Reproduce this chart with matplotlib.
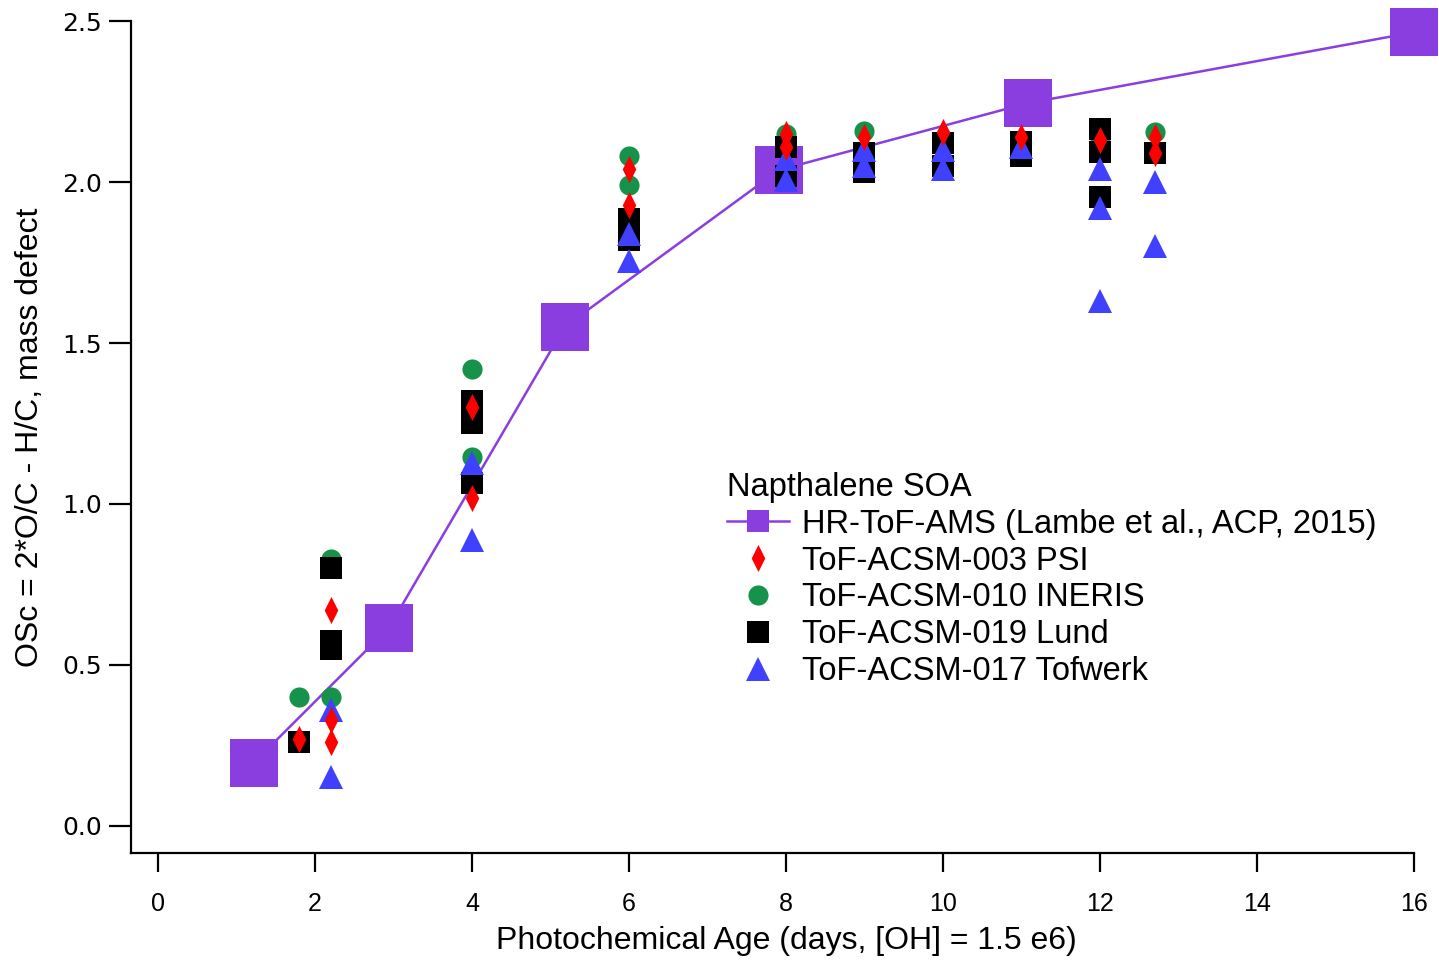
import matplotlib.pyplot as plt
import numpy as np

# Photochemical age (days) and OSc for each instrument
ams_age = [1.22, 2.94, 5.18, 7.91, 11.08, 16.0]
ams_osc = [0.196, 0.615, 1.55, 2.037, 2.245, 2.465]

psi_age = [1.8, 2.2, 2.2, 2.2, 4, 4, 6, 6, 8, 8, 9, 10, 11, 12, 12.7, 12.7]
psi_osc = [0.27, 0.67, 0.33, 0.26, 1.30, 1.02, 2.04, 1.93, 2.15, 2.11, 2.14, 2.155, 2.14, 2.13, 2.14, 2.09]

ineris_age = [1.8, 2.2, 2.2, 4, 4, 6, 6, 8, 9, 12, 12.7]
ineris_osc = [0.40, 0.83, 0.40, 1.42, 1.146, 2.08, 1.99, 2.15, 2.16, 2.13, 2.155]

lund_age = [1.8, 2.2, 2.2, 2.2, 4, 4, 4, 6, 6, 8, 8, 9, 9, 10, 10, 11, 11, 12, 12, 12, 12.7]
lund_osc = [0.26, 0.80, 0.575, 0.55, 1.32, 1.25, 1.065, 1.885, 1.82, 2.11, 2.02,
            2.09, 2.03, 2.12, 2.05, 2.125, 2.08, 2.166, 2.093, 1.953, 2.09]

tofwerk_age = [2.2, 2.2, 4, 4, 6, 6, 8, 8, 9, 9, 10, 10, 11, 12, 12, 12, 12.7, 12.7]
tofwerk_osc = [0.36, 0.152, 1.127, 0.888, 1.84, 1.755, 2.07, 2.006, 2.10, 2.05,
               2.10, 2.04, 2.11, 2.04, 1.92, 1.63, 2.00, 1.80]

purple = '#8a3ee0'
red = '#ff0000'
green = '#16924a'
blue = '#4040ff'

# thin upright diamond
diamond = [(0, 1), (0.5, 0), (0, -1), (-0.5, 0), (0, 1)]

fig = plt.figure(figsize=(14.39, 9.61), dpi=100)
ax = fig.add_axes([0.0910, 0.1124, 0.8916, 0.8657])

l_ams, = ax.plot(ams_age, ams_osc, '-', color=purple, lw=1.8, marker='s', ms=35,
                 mec=purple, mew=0, clip_on=False, zorder=2,
                 label='HR-ToF-AMS (Lambe et al., ACP, 2015)')
l_ineris, = ax.plot(ineris_age, ineris_osc, 'o', color=green, ms=14.5, mew=0,
                    zorder=3, label='ToF-ACSM-010 INERIS')
l_lund, = ax.plot(lund_age, lund_osc, 's', color='black', ms=16, mew=0,
                  zorder=4, label='ToF-ACSM-019 Lund')
l_tof, = ax.plot(tofwerk_age, tofwerk_osc, '^', color=blue, ms=17, mew=0,
                 zorder=5, label='ToF-ACSM-017 Tofwerk')
l_psi, = ax.plot(psi_age, psi_osc, ls='none', marker=diamond, color=red, ms=19.5,
                 mew=0, zorder=6, label='ToF-ACSM-003 PSI')

ax.set_xlim(-0.344, 16)
ax.set_ylim(-0.084, 2.5)

for s in ['top', 'right']:
    ax.spines[s].set_visible(False)
for s in ['left', 'bottom']:
    ax.spines[s].set_linewidth(1.6)

ax.set_xticks(np.arange(0, 17, 2))
ax.set_yticks(np.arange(0, 2.51, 0.5))
ax.set_yticklabels([f'{v:.1f}' for v in np.arange(0, 2.51, 0.5)])
ax.tick_params(axis='y', direction='out', length=16, width=1.6, pad=5,
               labelsize=18, labelfontfamily='DejaVu Sans')
ax.tick_params(axis='x', direction='out', length=14, width=1.6, pad=14,
               labelsize=18, labelfontfamily='Liberation Sans')

ax.set_xlabel('Photochemical Age (days, [OH] = 1.5 e6)', fontsize=23,
              family='Liberation Sans')
ax.xaxis.set_label_coords(0.5105, -0.1058)
ax.xaxis.label.set_va('center')
ax.set_ylabel('OSc = 2*O/C - H/C, mass defect', fontsize=23,
              family='Liberation Sans', labelpad=12)

leg = ax.legend(handles=[l_ams, l_psi, l_ineris, l_lund, l_tof],
                loc='upper left', bbox_to_anchor=(0.505, 0.509),
                bbox_transform=fig.transFigure, frameon=False,
                title='Napthalene SOA', alignment='left',
                prop={'family': 'Liberation Sans', 'size': 23.5},
                title_fontproperties={'family': 'Liberation Sans', 'size': 23.5},
                handlelength=1.9, handletextpad=0.4, labelspacing=0.18,
                borderpad=0, borderaxespad=0, markerscale=1.0)
# smaller squares in the legend handle for the AMS line
leg.legend_handles[0].set_markersize(16)

fig.savefig('out.png', dpi=100)
